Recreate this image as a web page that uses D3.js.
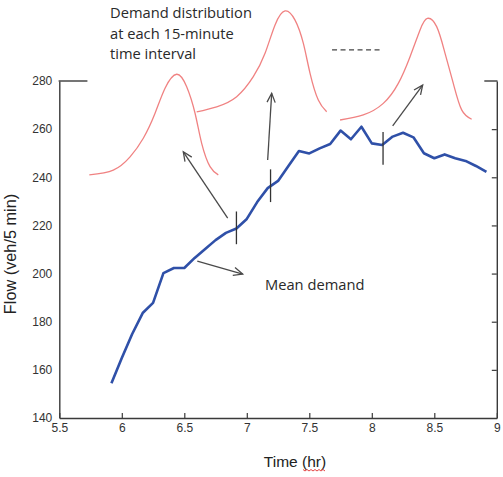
<!DOCTYPE html>
<html>
<head>
<meta charset="utf-8">
<script src="https://cdn.jsdelivr.net/npm/d3@7"></script>
<style>
  html, body { margin: 0; padding: 0; background: #fff; }
  svg { display: block; }
</style>
</head>
<body>
<svg id="chart" width="503" height="477"></svg>
<script>
// ---- data ----
const times = [5.917, 6.0, 6.083, 6.167, 6.25, 6.333, 6.417, 6.5, 6.583, 6.667, 6.75, 6.833,
  6.917, 7.0, 7.083, 7.167, 7.25, 7.333, 7.417, 7.5, 7.583, 7.667, 7.75, 7.833, 7.917,
  8.0, 8.083, 8.167, 8.25, 8.333, 8.417, 8.5, 8.583, 8.667, 8.75, 8.833, 8.917];
const meanFlow = [154.4, 164.9, 174.9, 183.6, 187.8, 200.2, 202.3, 202.3, 206.5, 210.2, 213.9, 216.9,
  218.7, 222.7, 229.7, 235.5, 238.5, 244.7, 250.9, 249.9, 252.0, 253.8, 259.4, 255.8, 261.0,
  254.1, 253.4, 256.9, 258.5, 256.6, 250.0, 247.9, 249.5, 247.9, 246.8, 244.7, 242.2];

const xTicks = [5.5, 6, 6.5, 7, 7.5, 8, 8.5, 9];
const yTicks = [140, 160, 180, 200, 220, 240, 260, 280];

// sketched distribution curves (time, flow-scale coordinates)
const dist1T = [5.74, 5.932, 6.066, 6.172, 6.266, 6.346, 6.439, 6.519, 6.586, 6.639, 6.706, 6.772];
const dist1F = [241.0, 243.0, 248.5, 256.2, 266.6, 277.0, 282.8, 277.6, 266.6, 254.1, 244.4, 241.0];
const dist2T = [6.599, 6.759, 6.919, 7.052, 7.146, 7.226, 7.306, 7.386, 7.452, 7.506, 7.572, 7.639];
const dist2F = [267.2, 269.3, 273.5, 281.8, 291.5, 303.3, 309.1, 305.3, 295.7, 283.2, 272.1, 267.2];
const dist3T = [7.746, 7.932, 8.092, 8.212, 8.306, 8.386, 8.444, 8.519, 8.586, 8.652, 8.719, 8.799];
const dist3F = [263.8, 265.9, 270.7, 279.0, 290.1, 301.2, 306.0, 302.6, 291.5, 279.0, 268.0, 264.1];

// interval marks on the mean line
const markT = [6.917, 7.19, 8.09];
const markF = [219.0, 236.5, 252.0];

// arrows: [t0, f0, t1, f1]
const arrowList = [
  [6.847, 223.0, 6.492, 250.6],
  [7.167, 247.2, 7.199, 274.9],
  [8.167, 261.4, 8.407, 278.3],
  [6.604, 205.2, 6.967, 199.8]
];

const annotationLines = ["Demand distribution", "at each 15-minute", "time interval"];
const meanLabel = "Mean demand";
const xTitle = "Time (hr)";
const yTitle = "Flow (veh/5 min)";

// ---- drawing ----
const svg = d3.select("#chart");
const x = d3.scaleLinear().domain([5.5, 9]).range([59.3, 496.8]);
const y = d3.scaleLinear().domain([140, 280]).range([418, 81]);

const axisColor = "#3a3a3a";
const labelFont = "'Liberation Sans', Arial, sans-serif";

// bottom axis
const gx = svg.append("g").attr("transform", `translate(0,${y(140)})`)
  .call(d3.axisBottom(x).tickValues(xTicks).tickSizeInner(-5).tickSizeOuter(0).tickPadding(5)
    .tickFormat(d => d));
gx.select(".domain").attr("stroke", axisColor).attr("stroke-width", 1.4);
gx.selectAll(".tick line").attr("stroke", axisColor).attr("stroke-width", 1.2);
gx.selectAll(".tick text").attr("fill", "#333").style("font-family", labelFont).style("font-size", "12px");

// left axis
const gy = svg.append("g").attr("transform", `translate(${x(5.5)},0)`)
  .call(d3.axisLeft(y).tickValues(yTicks).tickSize(0).tickPadding(7));
gy.select(".domain").attr("stroke", axisColor).attr("stroke-width", 1.4);
gy.selectAll(".tick text").attr("fill", "#333").style("font-family", labelFont).style("font-size", "12px");

// right axis (ticks inward)
const gr = svg.append("g").attr("transform", `translate(${x(9)},0)`)
  .call(d3.axisRight(y).tickValues(yTicks.slice(1, -1)).tickSizeInner(-5).tickSizeOuter(0).tickFormat(""));
gr.select(".domain").attr("stroke", axisColor).attr("stroke-width", 1.4);
gr.selectAll(".tick line").attr("stroke", axisColor).attr("stroke-width", 1.2);

// partial top border
svg.append("line").attr("x1", x(5.5) - 0.7).attr("x2", x(5.725)).attr("y1", y(280)).attr("y2", y(280))
  .attr("stroke", axisColor).attr("stroke-width", 1.4);
svg.append("line").attr("x1", x(8.9)).attr("x2", x(9) + 0.7).attr("y1", y(280)).attr("y2", y(280))
  .attr("stroke", axisColor).attr("stroke-width", 1.4);

// distribution curves
const curveLine = d3.line().x(d => x(d[0])).y(d => y(d[1])).curve(d3.curveNatural);
[[dist1T, dist1F], [dist2T, dist2F], [dist3T, dist3F]].forEach(([ts, fs]) => {
  svg.append("path").datum(ts.map((t, i) => [t, fs[i]]))
    .attr("d", curveLine).attr("fill", "none").attr("stroke", "#f08282").attr("stroke-width", 1.3);
});

// dashed "..." line between curves
svg.append("line").attr("x1", x(7.682)).attr("x2", x(8.09)).attr("y1", y(292.9)).attr("y2", y(292.9))
  .attr("stroke", "#444").attr("stroke-width", 1.2).attr("stroke-dasharray", "5,3.5");

// mean demand line
const meanLine = d3.line().x(d => x(d[0])).y(d => y(d[1]));
svg.append("path").datum(times.map((t, i) => [t, meanFlow[i]]))
  .attr("d", meanLine).attr("fill", "none").attr("stroke", "#2f50a8").attr("stroke-width", 2.6)
  .attr("stroke-linejoin", "round");

// interval marks
markT.forEach((t, i) => {
  svg.append("line").attr("x1", x(t)).attr("x2", x(t))
    .attr("y1", y(markF[i] + 6.8)).attr("y2", y(markF[i] - 6.8))
    .attr("stroke", "#333").attr("stroke-width", 1.3);
});

// arrows
arrowList.forEach(a => {
  const x0 = x(a[0]), y0 = y(a[1]), x1 = x(a[2]), y1 = y(a[3]);
  const ang = Math.atan2(y1 - y0, x1 - x0);
  const L = 10, spread = 0.42;
  svg.append("line").attr("x1", x0).attr("y1", y0).attr("x2", x1).attr("y2", y1)
    .attr("stroke", "#4a4a4a").attr("stroke-width", 1.3);
  const p1 = [x1 - L * Math.cos(ang - spread), y1 - L * Math.sin(ang - spread)];
  const p2 = [x1 - L * Math.cos(ang + spread), y1 - L * Math.sin(ang + spread)];
  svg.append("path").attr("d", `M${p1[0]},${p1[1]}L${x1},${y1}L${p2[0]},${p2[1]}`)
    .attr("fill", "none").attr("stroke", "#4a4a4a").attr("stroke-width", 1.3);
});

// annotation texts
const annFont = "'Open Sans', 'Noto Sans', sans-serif";
annotationLines.forEach((s, i) => {
  svg.append("text").attr("x", 110).attr("y", 18 + i * 20.5).text(s)
    .style("font-family", annFont).style("font-size", "14.7px").attr("fill", "#2a2a2a");
});
svg.append("text").attr("x", 265).attr("y", 290).text(meanLabel)
  .style("font-family", annFont).style("font-size", "14.7px").attr("fill", "#2a2a2a");

// axis titles
svg.append("text").attr("x", 295).attr("y", 466.5).attr("text-anchor", "middle").text(xTitle)
  .style("font-family", labelFont).style("font-size", "15.5px").attr("fill", "#222");
svg.append("text").attr("transform", "translate(15.5,254) rotate(-90)").attr("text-anchor", "middle").text(yTitle)
  .style("font-family", labelFont).style("font-size", "16.3px").attr("fill", "#222");

// spell-check squiggle under "hr"
let sq = "M303,469.5";
for (let i = 0; i < 11; i++) sq += `L${305 + i * 2},${i % 2 === 0 ? 471 : 469.5}`;
svg.append("path").attr("d", sq).attr("fill", "none").attr("stroke", "#e03030").attr("stroke-width", 0.9);
</script>
</body>
</html>
